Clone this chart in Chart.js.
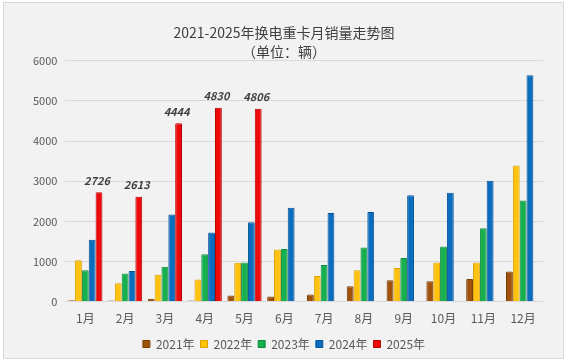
<!DOCTYPE html>
<html>
<head>
<meta charset="utf-8">
<script src="https://cdn.jsdelivr.net/npm/chart.js@4"></script>
<style>
  html, body { margin:0; padding:0; background:#fff; }
  #wrap { position:absolute; left:3px; top:2px; width:561px; height:357px; background:#f2f2f2; border:1px solid #d9d9d9; box-sizing:border-box; }
  canvas { display:block; }
</style>
</head>
<body>
<div id="wrap"><canvas id="c" width="561" height="357"></canvas></div>
<script>
const months = ["1月","2月","3月","4月","5月","6月","7月","8月","9月","10月","11月","12月"];
const y2021 = [35, 30, 70, 25, 150, 125, 175, 385, 530, 505, 565, 750];
const y2022 = [1030, 460, 670, 550, 970, 1300, 640, 780, 840, 975, 975, 3390];
const y2023 = [780, 700, 870, 1180, 975, 1310, 915, 1345, 1085, 1370, 1830, 2520];
const y2024 = [1540, 760, 2170, 1720, 1980, 2340, 2210, 2235, 2650, 2715, 3010, 5640];
const y2025 = [2726, 2613, 4444, 4830, 4806, null, null, null, null, null, null, null];
const yTicks = [0, 1000, 2000, 3000, 4000, 5000, 6000];

const font = "'Noto Sans CJK SC', 'Noto Sans', sans-serif";

// labels above the 2025 bars
const redLabels = {
  id: "redLabels",
  afterDatasetsDraw(chart){
    const ctx = chart.ctx;
    const meta = chart.getDatasetMeta(4);
    ctx.save();
    ctx.font = "italic bold 11px " + font;
    ctx.fillStyle = "#404040";
    ctx.textAlign = "center";
    ctx.textBaseline = "bottom";
    meta.data.forEach((bar, i) => {
      const v = y2025[i];
      if (v == null) return;
      ctx.fillText(String(v), bar.x - 2, bar.y - 6);
    });
    ctx.restore();
  }
};

function ds(label, data, color, border){
  return {
    label, data,
    backgroundColor: color,
    borderColor: border,
    borderWidth: 1,
    borderRadius: 1,
    borderSkipped: "bottom",
    categoryPercentage: 0.86,
    barPercentage: 1.0
  };
}

new Chart(document.getElementById("c"), {
  type: "bar",
  data: {
    labels: months,
    datasets: [
      ds("2021年", y2021, "#a0520c", "#7a3c05"),
      ds("2022年", y2022, "#ffc20e", "#d9a000"),
      ds("2023年", y2023, "#16b04f", "#0e8a3c"),
      ds("2024年", y2024, "#0b6dbd", "#07539a"),
      ds("2025年", y2025, "#ee0a0a", "#b80000")
    ]
  },
  options: {
    responsive: false,
    animation: false,
    layout: { padding: { left: 21, right: 22, top: 4, bottom: 0 } },
    plugins: {
      title: {
        display: true,
        text: ["2021-2025年换电重卡月销量走势图", "（单位：辆）"],
        color: "#404040",
        font: { family: font, size: 14, weight: "normal", lineHeight: 1.35 },
        padding: { top: 16, bottom: 0 }
      },
      legend: {
        position: "bottom",
        labels: {
          color: "#595959",
          font: { family: font, size: 12 },
          boxWidth: 7, boxHeight: 7,
          padding: 6,
          useBorderRadius: false
        }
      },
      tooltip: { enabled: false }
    },
    scales: {
      x: {
        grid: { display: false },
        border: { display: false },
        ticks: { color: "#595959", font: { family: font, size: 12 }, padding: 2 },
        afterFit(axis){ axis.height += 4; }
      },
      y: {
        min: 0, max: 6000,
        afterBuildTicks(axis){ axis.ticks = yTicks.map(v => ({ value: v })); },
        grid: { color: "#d9d9d9", drawTicks: false },
        border: { display: false },
        ticks: {
          color: "#595959", font: { family: font, size: 11 }, padding: 8,
          callback: v => String(v)
        }
      }
    }
  },
  plugins: [redLabels]
});
</script>
</body>
</html>
